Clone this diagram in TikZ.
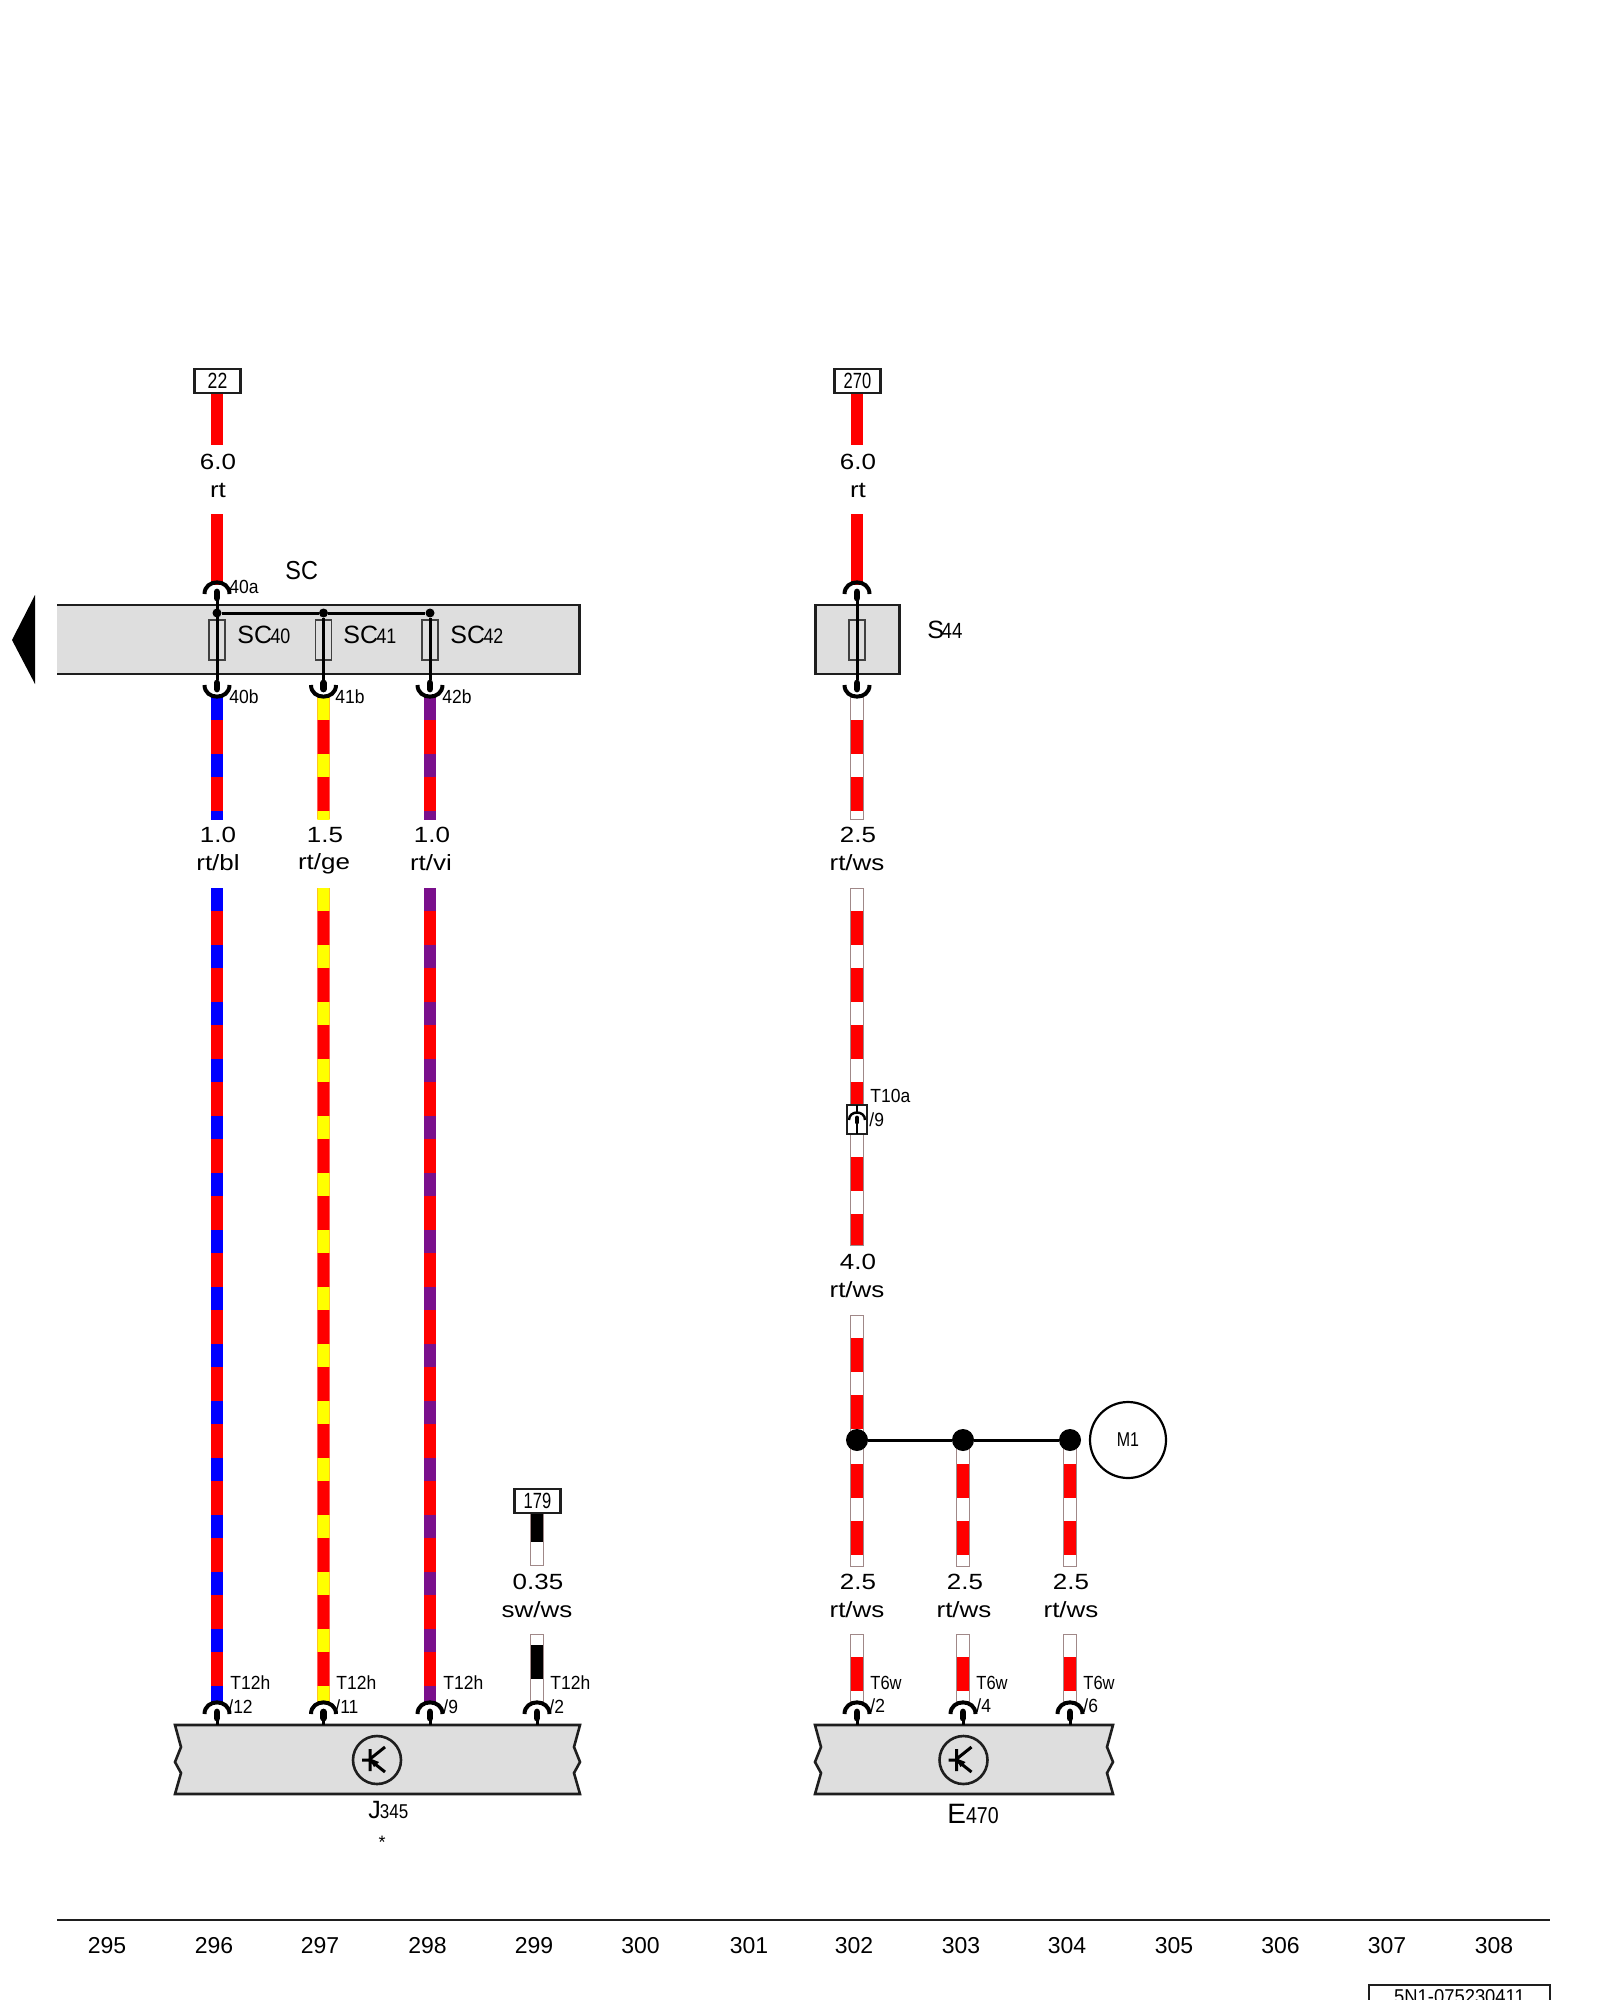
\documentclass[tikz,border=0pt]{standalone}
\usepackage{graphicx}
\usepackage{fontspec}
\setmainfont{Liberation Sans}
\usetikzlibrary{calc}
\definecolor{wred}{HTML}{FF0000}
\definecolor{wblue}{HTML}{0000FF}
\definecolor{wyel}{HTML}{FFFF00}
\definecolor{wvio}{HTML}{7A0F8C}
\definecolor{bgray}{HTML}{DEDEDE}
\definecolor{edge}{HTML}{1E1E1E}
\definecolor{wedge}{HTML}{A08888}
\newcommand{\fs}[1]{\fontsize{#1pt}{#1pt}\selectfont}
% x, y0, y1, band start, base colour, band colour
\newcommand{\wirerun}[6]{%
  \begin{scope}
    \clip (#1-6.2,#2) rectangle (#1+6.2,#3);
    \fill[#5] (#1-6.2,#2) rectangle (#1+6.2,#3);
    \foreach \k in {0,...,15} {\fill[#6] (#1-6.2,#4+57*\k) rectangle (#1+6.2,#4+57*\k+23);}
  \end{scope}}
\newcommand{\wsrun}[6]{%
  \wirerun{#1}{#2}{#3}{#4}{#5}{#6}
  \draw[wedge,line width=0.45pt] (#1-6.5,#2) rectangle (#1+6.5,#3);}
\newcommand{\plainrun}[3]{\fill[wred] (#1-6,#2) rectangle (#1+6,#3);}
% connector opening upward from the device below: x, top of arc
\newcommand{\pinup}[2]{%
  \draw[arcline] (#1-12.5,#2+12) .. controls (#1-12.5,#2-3.5) and (#1+12.5,#2-3.5) .. (#1+12.5,#2+12);
  \draw[pinline] (#1,#2+10) -- (#1,#2+16);
  \draw[thinline] (#1,#2+16) -- (#1,#2+23);}
% connector below a device: x, bottom of arc
\newcommand{\pindown}[2]{%
  \draw[arcline] (#1-12.5,#2-12) .. controls (#1-12.5,#2+3.5) and (#1+12.5,#2+3.5) .. (#1+12.5,#2-12);
  \draw[pinline] (#1,#2-14) -- (#1,#2-8);}
% jagged device box: name, x0, x1
\newcommand{\jagbox}[3]{%
  \draw[boxline,fill=bgray] (#2,1725) -- (#2+6,1747) -- (#2,1762) -- (#2+6,1773) -- (#2,1794)
    -- (#3,1794) -- (#3-6,1773) -- (#3,1762) -- (#3-6,1747) -- (#3,1725) -- cycle;}
\newcommand{\transym}[3]{%
  \node[draw=edge,line width=1.3pt,circle,minimum size=24pt,inner sep=0pt] (#1) at (#2,#3) {};
  \draw[black,line width=1.5pt] (#2-15,#3) -- (#2-7,#3)  (#2-7,#3-11) -- (#2-7,#3+11)
    (#2-7,#3-1) -- (#2+8,#3-13)  (#2-7,#3+0) -- (#2+8,#3+12);
  \fill[black] (#2-8,#3-2) -- (#2+2,#3+2) -- (#2-3,#3+7) -- cycle;}
\tikzset{
  x=0.5pt,y=-0.5pt,
  arcline/.style={black,line width=2pt},
  pinline/.style={black,line width=3.4pt,line cap=round},
  thinline/.style={black,line width=1.5pt},
  boxline/.style={draw=edge,line width=1.3pt},
  fuse/.style={draw=edge!85,line width=0.8pt,minimum width=8pt,minimum height=20pt,inner sep=0pt},
  tag/.style={draw=edge,line width=1.2pt,fill=white,minimum width=23pt,minimum height=12pt,inner sep=0pt,font=\fs{11}},
  dot/.style={circle,fill=black,minimum size=4.5pt,inner sep=0pt},
  bigdot/.style={circle,fill=black,minimum size=11pt,inner sep=0pt},
  wl/.style={inner sep=0pt,font=\fs{11}},
  sl/.style={inner sep=0pt,anchor=west,font=\fs{9.5}},
  nl/.style={inner sep=0pt,font=\fs{11.5}},
}
\newcommand{\wt}[1]{\scalebox{1.18}[1]{#1}}
\newcommand{\nr}[1]{\scalebox{0.92}[1]{#1}}
\newcommand{\dg}[1]{\scalebox{0.85}[1]{#1}}
\begin{document}
\begin{tikzpicture}
\useasboundingbox (0,0) rectangle (1600,2000);
\clip (0,0) rectangle (1600,2000);
\fill[white] (0,0) rectangle (1600,2000);

% --- wires
\plainrun{217}{393}{445}
\plainrun{217}{514}{585}
\plainrun{857}{393}{445}
\plainrun{857}{514}{585}
\wirerun{217}{695}{819}{697}{wred}{wblue}
\wirerun{323.5}{695}{819}{697}{wred}{wyel}
\wirerun{430}{695}{819}{697}{wred}{wvio}
\wsrun{857}{695}{819}{697}{wred}{white}
\wirerun{217}{888}{1703}{888}{wred}{wblue}
\wirerun{323.5}{888}{1703}{888}{wred}{wyel}
\wirerun{430}{888}{1703}{888}{wred}{wvio}
\wsrun{857}{888}{1105}{888}{wred}{white}
\wsrun{857}{1134}{1245}{1134}{wred}{white}
\wsrun{857}{1315}{1440}{1315}{wred}{white}
\wsrun{857}{1440}{1566}{1441}{wred}{white}
\wsrun{963}{1440}{1566}{1441}{wred}{white}
\wsrun{1070}{1440}{1566}{1441}{wred}{white}
\wsrun{857}{1634}{1703}{1634}{wred}{white}
\wsrun{963}{1634}{1703}{1634}{wred}{white}
\wsrun{1070}{1634}{1703}{1634}{wred}{white}
\wsrun{537}{1513}{1565}{1542}{black}{white}
\wsrun{537}{1634}{1703}{1622}{black}{white}

% --- SC carrier
\fill[bgray] (57,605) rectangle (579.5,674);
\draw[boxline] (57,605) -- (579.5,605) -- (579.5,674) -- (57,674);
\fill[black] (12,640) -- (35,595) -- (35,684) -- cycle;
\node[fuse] (f1) at (217,640) {};
\node[fuse] (f2) at (323.5,640) {};
\node[fuse] (f3) at (430,640) {};
\node[dot] (b1) at (217,613) {};
\node[dot] (b2) at (323.5,613) {};
\node[dot] (b3) at (430,613) {};
\draw[thinline] (b1) -- (b2);
\draw[thinline] (b2) -- (b3);
\coordinate (p1) at (217,598);
\coordinate (q1) at (217,680);
\coordinate (q2) at (323.5,680);
\coordinate (q3) at (430,680);
\draw[thinline] (p1) -- (q1);
\draw[thinline] (b2) -- (q2);
\draw[thinline] (b3) -- (q3);
\pinup{217}{582}
\pindown{217}{697}
\pindown{323.5}{697}
\pindown{430}{697}

% --- S44
\node[draw=edge,line width=1.3pt,fill=bgray,minimum width=42pt,minimum height=34.5pt,inner sep=0pt] (s44) at (857.5,639.5) {};
\node[fuse] (f4) at (857,640) {};
\coordinate (p4) at (857,598);
\coordinate (q4) at (857,680);
\draw[thinline] (p4) -- (q4);
\pinup{857}{582}
\pindown{857}{697}

% --- tags
\node[tag] (t22) at (217.5,381) {\scalebox{0.8}[1]{22}};
\node[tag] (t270) at (857.5,381) {\scalebox{0.75}[1]{270}};
\node[tag] (t179) at (537.5,1501) {\scalebox{0.75}[1]{179}};

% --- T10a connector
\node[draw=edge,line width=1.1pt,fill=white,minimum width=10pt,minimum height=14.5pt,inner sep=0pt] (t10) at (857,1119.5) {};
\draw[black,line width=1pt] (857,1105) -- (857,1113);
\draw[black,line width=1.2pt] (849,1120) .. controls (849,1110) and (865,1110) .. (865,1120);
\draw[black,line width=2.4pt,line cap=round] (857,1118) -- (857,1122);
\draw[black,line width=1pt] (857,1122) -- (857,1134);

% --- junction
\node[bigdot] (d1) at (857,1440) {};
\node[bigdot] (d2) at (963,1440) {};
\node[bigdot] (d3) at (1070,1440) {};
\draw[thinline] (d1) -- (d2);
\draw[thinline] (d2) -- (d3);
\node[draw=black,line width=1.1pt,circle,minimum size=38pt,inner sep=0pt,font=\fs{10}] (m1) at (1128,1440) {\scalebox{0.8}[1]{M1}};

% --- bottom devices
\jagbox{jc}{175}{580}
\jagbox{ec}{815}{1113}
\transym{jt}{377}{1760}
\transym{et}{963.5}{1760}
\foreach \x in {217,323.5,430,537,857,963,1070} {\pinup{\x}{1702}}

% --- wire labels
\node[wl] (a1) at (218,462) {\wt{6.0}};
\node[wl] (a2) at (218,490) {\wt{rt}};
\node[wl] (a3) at (858,462) {\wt{6.0}};
\node[wl] (a4) at (858,490) {\wt{rt}};
\node[wl] (c1) at (218,835) {\wt{1.0}};
\node[wl] (c2) at (218,863) {\wt{rt/bl}};
\node[wl] (c3) at (325,835) {\wt{1.5}};
\node[wl] (c4) at (324,864) {\wt{rt/ge}};
\node[wl] (c5) at (432,835) {\wt{1.0}};
\node[wl] (c6) at (431,863) {\wt{rt/vi}};
\node[wl] (c7) at (858,835) {\wt{2.5}};
\node[wl] (c8) at (857,863) {\wt{rt/ws}};
\node[wl] (e1) at (858,1262) {\wt{4.0}};
\node[wl] (e2) at (857,1290) {\wt{rt/ws}};
\node[wl] (g1) at (858,1582) {\wt{2.5}};
\node[wl] (g2) at (857,1610) {\wt{rt/ws}};
\node[wl] (g3) at (965,1582) {\wt{2.5}};
\node[wl] (g4) at (964,1610) {\wt{rt/ws}};
\node[wl] (g5) at (1071,1582) {\wt{2.5}};
\node[wl] (g6) at (1071,1610) {\wt{rt/ws}};
\node[wl] (h1) at (538,1582) {\wt{0.35}};
\node[wl] (h2) at (537,1610) {\wt{sw/ws}};

% --- small labels
\node[sl] (l1) at (229,587) {\nr{40a}};
\node[sl] (l2) at (229,697) {\nr{40b}};
\node[sl] (l3) at (335,697) {\nr{41b}};
\node[sl] (l4) at (442,697) {\nr{42b}};
\node[sl] (l5) at (870,1096) {\nr{T10a}};
\node[sl] (l6) at (869,1120) {\nr{/9}};
\foreach \x/\y/\t [count=\i] in {230/228/12,336/335/11,443/443/9,550/549/2} {
  \node[sl] (ja\i) at (\x,1683) {\nr{T12h}};
  \node[sl] (jb\i) at (\y,1707) {\nr{/\t}};
}
\foreach \x/\y/\t [count=\i] in {870/870/2,976/976/4,1083/1083/6} {
  \node[sl] (ea\i) at (\x,1683) {\scalebox{0.87}[1]{T6w}};
  \node[sl] (eb\i) at (\y,1706) {\nr{/\t}};
}

% --- device names
\node[sl,font=\fs{13}] (sc) at (285,571) {\scalebox{0.9}[1]{SC}};
\node[sl,font=\fs{12.5}] (n40) at (237,635) {SC\kern-0.8pt\fs{10.5}\dg{40}};
\node[sl,font=\fs{12.5}] (n41) at (343,635) {SC\kern-0.8pt\fs{10.5}\dg{41}};
\node[sl,font=\fs{12.5}] (n42) at (450,635) {SC\kern-0.8pt\fs{10.5}\dg{42}};
\node[sl,font=\fs{12.5}] (n44) at (927,630) {S\kern-1.2pt\fs{11}\dg{44}};
\node[sl,font=\fs{12.5}] (nj) at (368,1810) {J\kern-0.5pt\fs{10}\dg{345}};
\node[inner sep=0pt,font=\fs{9}] (star) at (382,1842) {*};
\node[sl,font=\fs{14}] (ne) at (947,1814) {E\fs{11.5}\dg{470}};

% --- footer
\coordinate (fl) at (57,1920);
\coordinate (fr) at (1550,1920);
\draw[edge,line width=1.2pt] (fl) -- (fr);
\foreach \x/\t in {107/295,214/296,320/297,427.5/298,534/299,640.5/300,749/301,854/302,961/303,1067/304,1174/305,1280.5/306,1387/307,1494/308} {
  \node[nl] (col\t) at (\x,1946) {\t};
}
\node[draw=edge,line width=1.2pt,fill=white,minimum width=90.5pt,minimum height=16pt,inner sep=0pt,anchor=north west] (docbox) at (1368,1984) {};
\node[inner sep=0pt,font=\fs{10}] (doc) at (1459.5,1997) {\scalebox{0.92}[1]{5N1-075230411}};
\end{tikzpicture}
\end{document}
